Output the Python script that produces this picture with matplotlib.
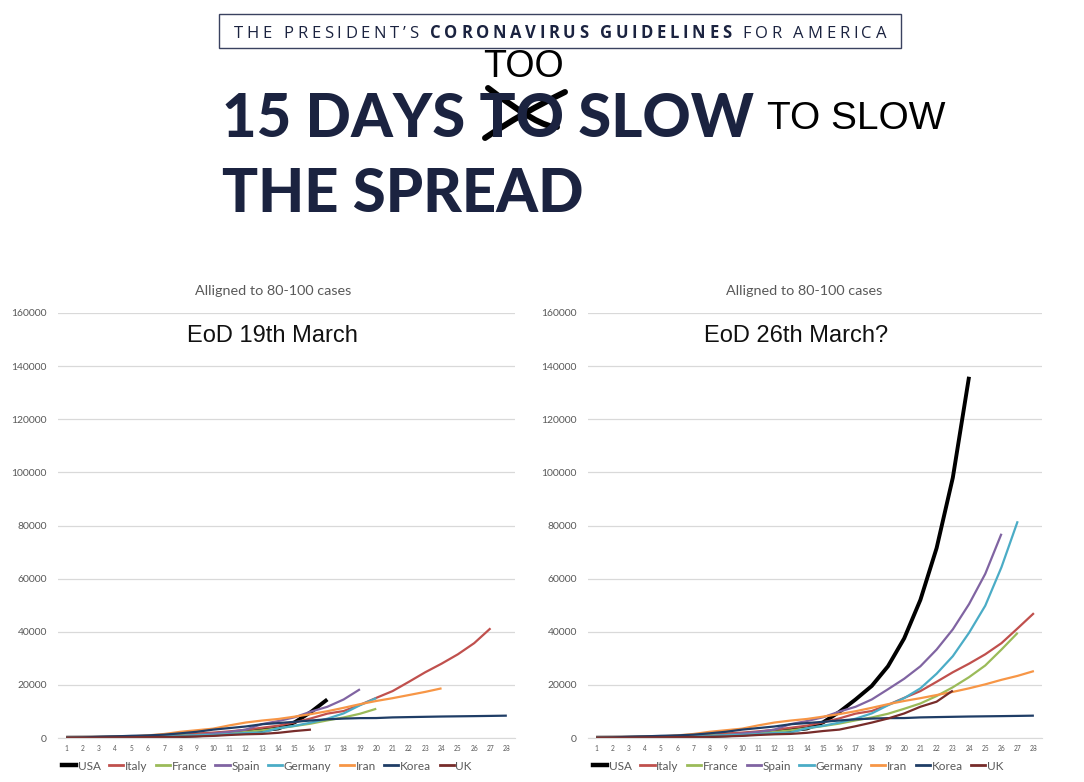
import matplotlib
matplotlib.use("Agg")
import matplotlib.pyplot as plt
from matplotlib.lines import Line2D
from matplotlib.patches import Rectangle, PathPatch
from matplotlib.path import Path

plt.rcParams['font.family'] = ['Lato', 'DejaVu Sans']

# ─── data: cumulative cases, day 1 = first day with ~80-100 cases ─────────
DAYS      = list(range(1, 29))
COUNTRIES = ["USA", "Italy", "France", "Spain", "Germany", "Iran", "Korea", "UK"]
COLORS    = ["#000000", "#c0504d", "#9bbb59", "#8064a2", "#4bacc6", "#f79646", "#1f3d66", "#772c2a"]
WIDTHS    = [2.8, 1.6, 1.6, 1.6, 1.6, 1.6, 1.6, 1.6]

# known up to EoD 19 March
usa     = [100, 124, 158, 221, 319, 435, 541, 704, 994, 1301, 1697, 2247, 2943, 3600, 5900, 9800, 14500]
italy   = [80, 155, 230, 320, 450, 650, 890, 1130, 1700, 2040, 2500, 3090, 3860, 4640, 5880, 7380, 9170,
           10150, 12460, 15110, 17660, 21160, 24750, 27980, 31510, 35710, 41300]
france  = [100, 130, 190, 210, 285, 420, 650, 950, 1130, 1410, 1780, 2280, 2880, 3660, 4500, 5420, 6630,
           7730, 9130, 11000]
spain   = [84, 120, 165, 222, 259, 400, 500, 673, 1073, 1695, 2277, 3146, 5232, 6391, 7798, 9942, 11748,
           14500, 18350]
germany = [79, 130, 159, 196, 262, 482, 670, 799, 1040, 1176, 1457, 1908, 2078, 3675, 4585, 5795, 7272,
           9257, 12327, 15000]
iran    = [95, 139, 245, 388, 593, 978, 1501, 2336, 2922, 3513, 4747, 5823, 6566, 7161, 8042, 9000, 10075,
           11364, 12729, 13938, 14991, 16169, 17361, 18700]
korea   = [104, 204, 433, 602, 833, 977, 1261, 1766, 2337, 3150, 3736, 4335, 5186, 5621, 6088, 6593, 7041,
           7314, 7478, 7513, 7755, 7869, 7979, 8086, 8162, 8236, 8320, 8413]
uk      = [85, 115, 163, 206, 273, 321, 373, 456, 590, 798, 1140, 1391, 1543, 1950, 2626, 3160]

# projected extra days to EoD 26 March
usa_proj     = [19600, 27000, 37500, 52000, 71500, 98000, 136000]
italy_proj   = [47000]
france_proj  = [13000, 15800, 19100, 22900, 27300, 33300, 39600]
spain_proj   = [22300, 27000, 33300, 40900, 50400, 61800, 76900]
germany_proj = [18700, 24200, 30800, 39600, 49800, 64300, 81600]
iran_proj    = [20200, 21900, 23400, 25200]
korea_proj   = []
uk_proj      = [4430, 5800, 7340, 9240, 11770, 13670, 17850]

known = [usa, italy, france, spain, germany, iran, korea, uk]
proj  = [usa_proj, italy_proj, france_proj, spain_proj, germany_proj, iran_proj, korea_proj, uk_proj]

W, H = 1084, 782
fig = plt.figure(figsize=(W / 100, H / 100), dpi=100)
r = fig.canvas.get_renderer()
fx = lambda px: px / W
fy = lambda py: 1 - py / H

def width_of(s, **kw):
    t = fig.text(0, 0, s, **kw)
    w = t.get_window_extent(renderer=r).width
    t.remove()
    return w

# ─── header ──────────────────────────────────────────────────────────────
NAVY = "#1b2340"
fig.add_artist(Rectangle((fx(219), fy(48)), fx(901) - fx(219), fy(14) - fy(48),
                         transform=fig.transFigure, fill=False, ec="#3a4260", lw=1))

segs = [("THE PRESIDENT\u2019S ", "normal"), ("CORONAVIRUS GUIDELINES", "bold"), (" FOR AMERICA", "normal")]
chars = [(c, wt) for s, wt in segs for c in s]
hkw = dict(family=["Open Sans", "DejaVu Sans"], fontsize=12, color=NAVY)
def cw(c, wt):
    if c == " ":
        return width_of("x x", fontweight=wt, **hkw) - width_of("xx", fontweight=wt, **hkw)
    return width_of(c, fontweight=wt, **hkw)
widths = [cw(c, wt) for c, wt in chars]
track = (886 - 234 - sum(widths)) / (len(chars) - 1)
x = 234
for (c, wt), w in zip(chars, widths):
    if c != " ":
        fig.text(fx(x), fy(38), c, fontweight=wt, ha="left", va="baseline", **hkw)
    x += w + track

tkw = dict(family=["Lato", "Roboto", "DejaVu Sans"], fontweight="black", color=NAVY)
size = min(50 * 532 / width_of("15 DAYS TO SLOW", fontsize=50, **tkw), 52)
fig.text(fx(222), fy(137), "15 DAYS TO SLOW", fontsize=size, ha="left", va="baseline", **tkw)
fig.text(fx(222), fy(212), "THE SPREAD", fontsize=size, ha="left", va="baseline", **tkw)

akw = dict(family=["Liberation Sans", "DejaVu Sans"], color="black")
fig.text(fx(523), fy(77), "TOO", fontsize=27, ha="center", va="baseline", **akw)
fig.text(fx(767), fy(129), "TO SLOW", fontsize=28, ha="left", va="baseline", **akw)

# hand-drawn cross over "TO"
cross = [[(488, 88), (540, 128), (557, 127)], [(485, 138), (522, 113), (565, 92)]]
for pts in cross:
    verts = [(fx(a), fy(b)) for a, b in pts]
    fig.add_artist(PathPatch(Path(verts, [Path.MOVETO, Path.CURVE3, Path.CURVE3]),
                             transform=fig.transFigure, fill=False, ec="black", lw=4.3,
                             capstyle="round"))

# ─── charts ──────────────────────────────────────────────────────────────
GREY = "#595959"
panels = [
    ([fx(58), fy(738), fx(515) - fx(58), fy(313) - fy(738)], "EoD 19th March", False, 0.470, 0.470, 0.457),
    ([fx(588), fy(738), fx(1042) - fx(588), fy(313) - fy(738)], "EoD 26th March?", True, 0.476, 0.458, 0.463),
]
for rect, label, projected, sx, ex, lx in panels:
    ax = fig.add_axes(rect)
    for name, col, lw, k, p in zip(COUNTRIES, COLORS, WIDTHS, known, proj):
        vals = k + p if projected else k
        ax.plot(DAYS[:len(vals)], vals, color=col, lw=lw, solid_capstyle="butt")
    ax.set_xlim(0.5, 28.5)
    ax.set_ylim(0, 160000)
    ax.set_yticks(range(0, 160001, 20000))
    ax.set_xticks(DAYS)
    ax.grid(axis="y", color="#d9d9d9", lw=0.9)
    ax.set_axisbelow(True)
    for s in ["top", "left", "right"]:
        ax.spines[s].set_visible(False)
    ax.spines["bottom"].set_color("#d9d9d9")
    ax.tick_params(length=0)
    ax.tick_params(axis="y", labelsize=7.5, labelcolor=GREY, pad=8)
    ax.tick_params(axis="x", labelsize=4.8, labelcolor=GREY, pad=5)
    ax.text(sx, 1.052, "Alligned to 80-100 cases", transform=ax.transAxes, ha="center", va="center",
            fontsize=10.4, color=GREY)
    ax.text(ex, 0.946, label, transform=ax.transAxes, ha="center", va="center", fontsize=17,
            family=["Liberation Sans", "DejaVu Sans"], color="#111111")
    handles = [Line2D([], [], color=c, lw=lw + 0.4) for c, lw in zip(COLORS, WIDTHS)]
    leg = ax.legend(handles, COUNTRIES, loc="center", bbox_to_anchor=(lx, -0.066), ncol=8, frameon=False,
                    fontsize=8.5, handlelength=1.2, handletextpad=0.15, columnspacing=0.7)
    for t in leg.get_texts():
        t.set_color(GREY)

fig.savefig("out.png", dpi=100)
